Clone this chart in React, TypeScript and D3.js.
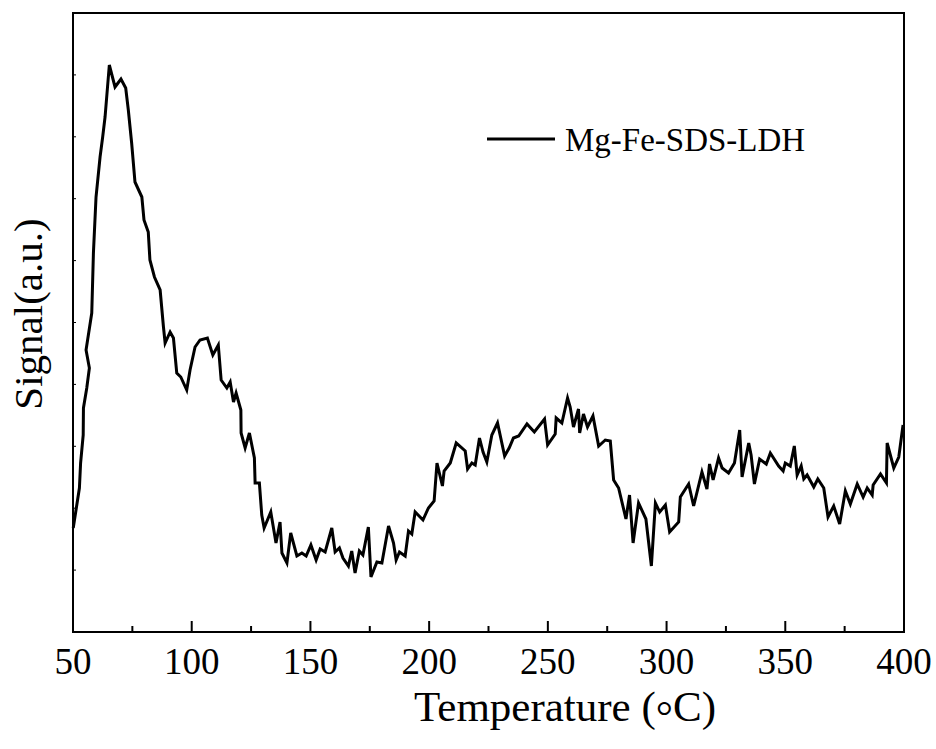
import React, { useEffect, useRef } from "react";
import * as d3 from "d3";

const temperature = [
  50.1, 52.7, 53.2, 54.3, 54.4, 55.8, 56.9, 55.5, 57.9, 58.6, 59.7, 61.4, 62.5, 63.5, 65.3, 67.7, 70.2, 72.2, 73.3, 74.7,
  76.1, 79.0, 79.9, 81.7, 82.4, 84.3, 86.7, 88.1, 88.8, 90.9, 92.3, 93.7, 95.4, 97.9, 99.3, 101.4, 103.5, 106.6, 108.9, 111.2,
  112.4, 114.8, 116.2, 117.6, 118.7, 120.7, 120.8, 122.5, 124.3, 126.4, 126.7, 128.5, 129.5, 130.5, 133.3, 135.5, 137.2, 138.0, 140.1, 141.7,
  144.3, 146.4, 148.2, 150.2, 152.4, 154.1, 156.2, 159.0, 160.4, 162.2, 163.7, 166.0, 167.4, 168.8, 170.6, 172.1, 174.4, 175.5, 178.0, 180.1,
  182.9, 185.0, 186.1, 187.5, 189.9, 191.3, 192.7, 194.1, 197.4, 199.7, 202.1, 203.3, 205.6, 206.3, 208.9, 211.4, 215.2, 216.2, 218.0, 219.4,
  221.2, 222.7, 224.3, 226.4, 228.8, 231.8, 233.7, 235.5, 237.7, 241.2, 244.3, 248.6, 249.9, 253.1, 253.5, 255.9, 258.3, 259.4, 260.8, 262.9,
  263.4, 265.0, 266.7, 269.0, 271.4, 274.2, 276.3, 277.7, 279.8, 282.9, 284.4, 285.9, 288.2, 291.3, 293.6, 295.3, 297.1, 299.5, 301.3, 305.1,
  305.8, 309.3, 311.4, 314.9, 317.0, 318.1, 319.6, 321.9, 323.4, 326.1, 328.6, 330.8, 331.8, 334.6, 335.6, 337.0, 339.2, 342.0, 343.7, 347.2,
  349.1, 350.0, 352.1, 353.8, 355.0, 356.7, 357.8, 359.2, 362.0, 363.7, 366.2, 368.0, 370.4, 372.9, 375.3, 377.4, 380.3, 382.8, 384.5, 386.6,
  387.0, 390.1, 392.6, 392.9, 395.7, 397.8, 399.6,
];

const signal = [
  1.04, 1.44, 1.69, 1.97, 2.24, 2.44, 2.64, 2.82, 3.19, 3.79, 4.35, 4.75, 4.95, 5.15, 5.67, 5.45, 5.53, 5.44, 5.22, 4.89,
  4.50, 4.35, 4.12, 4.00, 3.72, 3.55, 3.42, 3.05, 2.89, 3.00, 2.94, 2.59, 2.55, 2.42, 2.62, 2.85, 2.92, 2.94, 2.77, 2.87,
  2.52, 2.44, 2.50, 2.30, 2.39, 2.22, 1.99, 1.84, 1.99, 1.74, 1.49, 1.49, 1.17, 1.04, 1.20, 0.89, 1.10, 0.79, 0.69, 0.99,
  0.76, 0.79, 0.76, 0.87, 0.72, 0.83, 0.80, 1.04, 0.80, 0.84, 0.74, 0.66, 0.81, 0.59, 0.81, 0.77, 1.05, 0.55, 0.70, 0.69,
  1.06, 0.89, 0.72, 0.80, 0.76, 1.01, 0.98, 1.20, 1.12, 1.24, 1.31, 1.69, 1.46, 1.61, 1.69, 1.89, 1.81, 1.63, 1.69, 1.67,
  1.94, 1.80, 1.70, 1.97, 2.09, 1.76, 1.84, 1.94, 1.96, 2.08, 2.00, 2.13, 1.87, 1.98, 2.14, 2.09, 2.34, 2.25, 2.05, 2.23,
  1.99, 2.18, 2.05, 2.16, 1.86, 1.92, 1.91, 1.52, 1.44, 1.13, 1.37, 0.89, 1.29, 1.13, 0.66, 1.29, 1.20, 1.27, 1.00, 1.10,
  1.35, 1.48, 1.26, 1.60, 1.43, 1.68, 1.52, 1.74, 1.64, 1.59, 1.69, 2.02, 1.55, 1.89, 1.77, 1.48, 1.73, 1.68, 1.79, 1.66,
  1.61, 1.69, 1.66, 1.86, 1.57, 1.66, 1.53, 1.57, 1.45, 1.53, 1.44, 1.15, 1.26, 1.08, 1.41, 1.28, 1.48, 1.35, 1.44, 1.37,
  1.47, 1.58, 1.49, 1.89, 1.64, 1.75, 2.07,
];

const xMajorTicks = [50, 100, 150, 200, 250, 300, 350, 400];
const xMinorTicks = [75, 125, 175, 225, 275, 325, 375];
const yMinorTicks = [0.619, 1.238, 1.857, 2.476, 3.095, 3.714, 4.333, 4.952, 5.571];
const seriesName = "Mg-Fe-SDS-LDH";
const xTitleParts = ["Temperature (", "\u00B0", "C)"];
const yTitle = "Signal(a.u.)";

const W = 936;
const H = 749;
const M = { left: 73, right: 904, top: 13, bottom: 632 };
const FONT = "'Liberation Serif', 'Times New Roman', serif";

export default function App() {
  const ref = useRef<SVGSVGElement | null>(null);

  useEffect(() => {
    const svg = d3.select(ref.current);
    svg.selectAll("*").remove();

    const x = d3.scaleLinear().domain([50, 400]).range([M.left, M.right]);
    const y = d3.scaleLinear().domain([0, 6.19]).range([M.bottom, M.top]);

    const data = temperature.map((t, i) => ({ t, s: signal[i] }));

    svg
      .append("rect")
      .attr("x", M.left)
      .attr("y", M.top)
      .attr("width", M.right - M.left)
      .attr("height", M.bottom - M.top)
      .attr("fill", "none")
      .attr("stroke", "#000")
      .attr("stroke-width", 2);

    svg
      .append("g")
      .selectAll("line")
      .data(xMajorTicks)
      .join("line")
      .attr("x1", (d) => x(d))
      .attr("x2", (d) => x(d))
      .attr("y1", M.bottom)
      .attr("y2", M.bottom - 11)
      .attr("stroke", "#000")
      .attr("stroke-width", 2);
    svg
      .append("g")
      .selectAll("line")
      .data(xMinorTicks)
      .join("line")
      .attr("x1", (d) => x(d))
      .attr("x2", (d) => x(d))
      .attr("y1", M.bottom)
      .attr("y2", M.bottom - 6)
      .attr("stroke", "#000")
      .attr("stroke-width", 2);

    svg
      .append("g")
      .selectAll("line")
      .data(yMinorTicks)
      .join("line")
      .attr("x1", M.left)
      .attr("x2", M.left + 3)
      .attr("y1", (d) => y(d))
      .attr("y2", (d) => y(d))
      .attr("stroke", "#000")
      .attr("stroke-width", 1);

    svg
      .append("g")
      .selectAll("text")
      .data(xMajorTicks)
      .join("text")
      .attr("x", (d) => x(d))
      .attr("y", 674)
      .attr("text-anchor", "middle")
      .attr("font-family", FONT)
      .attr("font-size", 37)
      .attr("fill", "#000")
      .text((d) => String(d));

    const xt = svg
      .append("text")
      .attr("x", 565)
      .attr("y", 721)
      .attr("text-anchor", "middle")
      .attr("font-family", FONT)
      .attr("font-size", 43);
    xt.append("tspan").text(xTitleParts[0]);
    xt.append("tspan").attr("dy", 9).text(xTitleParts[1]);
    xt.append("tspan").attr("dy", -9).text(xTitleParts[2]);

    svg
      .append("text")
      .attr("transform", "translate(42,314) rotate(-90)")
      .attr("text-anchor", "middle")
      .attr("font-family", FONT)
      .attr("font-size", 41)
      .text(yTitle);

    const line = d3
      .line<{ t: number; s: number }>()
      .x((d) => x(d.t))
      .y((d) => y(d.s));
    svg
      .append("path")
      .datum(data)
      .attr("d", line)
      .attr("fill", "none")
      .attr("stroke", "#000")
      .attr("stroke-width", 3)
      .attr("stroke-linejoin", "miter");

    svg
      .append("line")
      .attr("x1", 487)
      .attr("x2", 555)
      .attr("y1", 139)
      .attr("y2", 139)
      .attr("stroke", "#000")
      .attr("stroke-width", 3);
    svg
      .append("text")
      .attr("x", 565)
      .attr("y", 151)
      .attr("font-family", FONT)
      .attr("font-size", 33)
      .text(seriesName);
  }, []);

  return (
    <svg
      ref={ref}
      width={W}
      height={H}
      style={{ position: "absolute", left: 0, top: 0, background: "#fff" }}
    />
  );
}
